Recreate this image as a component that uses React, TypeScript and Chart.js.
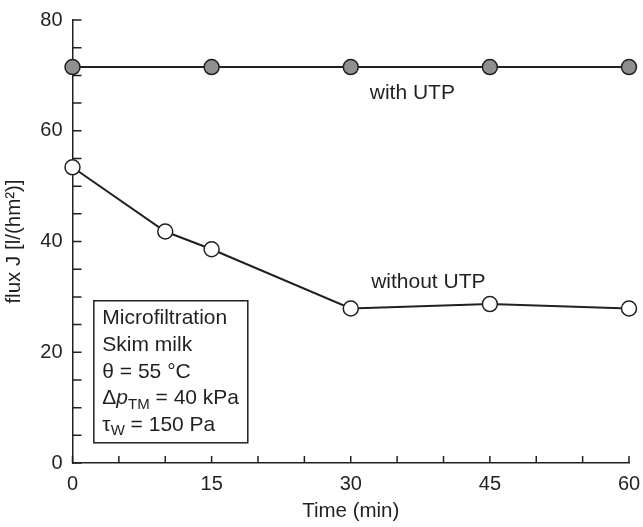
import React, { useEffect, useRef } from "react";
import { Chart, registerables } from "chart.js";

Chart.register(...registerables);

// ---- data ----
const timeWithUTP = [0, 15, 30, 45, 60];
const fluxWithUTP = [71.5, 71.5, 71.5, 71.5, 71.5];
const timeWithoutUTP = [0, 10, 15, 30, 45, 60];
const fluxWithoutUTP = [53.4, 41.8, 38.6, 27.9, 28.7, 27.9];
const xTickLabels = [0, 15, 30, 45, 60];
const yTickLabels = [0, 20, 40, 60, 80];
const seriesNames = ["with UTP", "without UTP"];
const seriesLabelAt = [
  [32.05, 66.8],
  [32.2, 32.7],
];
const infoBox = { x0: 2.3, x1: 18.9, yTop: 29.3, yBottom: 3.65 };
type Seg = { t: string; italic?: boolean; sub?: boolean };
const infoLines: Seg[][] = [
  [{ t: "Microfiltration" }],
  [{ t: "Skim milk" }],
  [{ t: "θ = 55 °C" }],
  [{ t: "Δ" }, { t: "p", italic: true }, { t: "TM", sub: true }, { t: " = 40 kPa" }],
  [{ t: "τ" }, { t: "W", sub: true }, { t: " = 150 Pa" }],
];

const INK = "#231f20";
const FONT = "'Liberation Sans', Arial, sans-serif";
const FS = 20;
const FS_NOTE = 21;
const FS_TITLE = 20.5;

const overlayPlugin = {
  id: "overlay",
  beforeDatasetsDraw(chart: any) {
    const { ctx, chartArea } = chart;
    const x = chart.scales.x;
    const y = chart.scales.y;
    ctx.save();
    ctx.strokeStyle = INK;
    ctx.lineWidth = 1.5;
    ctx.beginPath();
    x.ticks.forEach((t: any) => {
      const px = x.getPixelForValue(t.value);
      ctx.moveTo(px, chartArea.bottom);
      ctx.lineTo(px, chartArea.bottom - 7);
    });
    y.ticks.forEach((t: any) => {
      const py = y.getPixelForValue(t.value);
      ctx.moveTo(chartArea.left, py);
      ctx.lineTo(chartArea.left + 9, py);
    });
    ctx.stroke();
    ctx.restore();
  },
  afterDatasetsDraw(chart: any) {
    const { ctx } = chart;
    const x = chart.scales.x;
    const y = chart.scales.y;
    ctx.save();
    // series labels
    ctx.fillStyle = INK;
    ctx.font = `${FS_NOTE}px ${FONT}`;
    ctx.textBaseline = "middle";
    ctx.textAlign = "left";
    seriesNames.forEach((name, i) => {
      ctx.fillText(name, x.getPixelForValue(seriesLabelAt[i][0]), y.getPixelForValue(seriesLabelAt[i][1]));
    });
    // info box
    const bx0 = x.getPixelForValue(infoBox.x0);
    const bx1 = x.getPixelForValue(infoBox.x1);
    const by0 = y.getPixelForValue(infoBox.yTop);
    const by1 = y.getPixelForValue(infoBox.yBottom);
    ctx.fillStyle = "#ffffff";
    ctx.fillRect(bx0, by0, bx1 - bx0, by1 - by0);
    ctx.strokeStyle = INK;
    ctx.lineWidth = 1.5;
    ctx.strokeRect(bx0, by0, bx1 - bx0, by1 - by0);
    ctx.fillStyle = INK;
    const lineGap = (by1 - by0 - 35) / (infoLines.length - 1);
    infoLines.forEach((segs, i) => {
      let cx = bx0 + 8.5;
      const cy = by0 + 17.5 + i * lineGap;
      segs.forEach((s) => {
        if (s.sub) {
          ctx.font = `15px ${FONT}`;
          ctx.fillText(s.t, cx, cy + 6);
        } else {
          ctx.font = `${s.italic ? "italic " : ""}${FS_NOTE}px ${FONT}`;
          ctx.fillText(s.t, cx, cy);
        }
        cx += ctx.measureText(s.t).width;
      });
    });
    ctx.restore();
  },
};

export default function App() {
  const ref = useRef<HTMLCanvasElement>(null);
  useEffect(() => {
    if (!ref.current) return;
    const chart = new Chart(ref.current, {
      type: "line",
      data: {
        datasets: [
          {
            label: seriesNames[0],
            data: timeWithUTP.map((t, i) => ({ x: t, y: fluxWithUTP[i] })),
            borderColor: INK,
            borderWidth: 2,
            backgroundColor: "#8e8f93",
            pointBackgroundColor: "#8e8f93",
            pointBorderColor: INK,
            pointBorderWidth: 1.5,
            pointRadius: 7.5,
            clip: false as any,
          },
          {
            label: seriesNames[1],
            data: timeWithoutUTP.map((t, i) => ({ x: t, y: fluxWithoutUTP[i] })),
            borderColor: INK,
            borderWidth: 2,
            backgroundColor: "#ffffff",
            pointBackgroundColor: "#ffffff",
            pointBorderColor: INK,
            pointBorderWidth: 1.5,
            pointRadius: 7.5,
            clip: false as any,
          },
        ],
      },
      options: {
        animation: false,
        responsive: false,
        layout: { padding: { top: 20, right: 14, left: 0, bottom: 0 } },
        plugins: { legend: { display: false }, tooltip: { enabled: false } },
        scales: {
          x: {
            type: "linear",
            min: 0,
            max: 60,
            grid: { display: false, drawTicks: false },
            border: { display: true, color: INK, width: 1.5 },
            ticks: {
              stepSize: 5,
              autoSkip: false,
              maxRotation: 0,
              padding: 9,
              color: INK,
              font: { family: FONT, size: FS },
              callback: (v: any) => (xTickLabels.includes(Number(v)) ? String(v) : ""),
            },
            title: {
              display: true,
              text: "Time (min)",
              color: INK,
              font: { family: FONT, size: FS_TITLE },
              padding: { top: 3, bottom: 3 },
            },
            afterFit: (s: any) => {
              s.height = 64;
              s.paddingLeft = 0;
              s.paddingRight = 0;
            },
          },
          y: {
            type: "linear",
            min: 0,
            max: 80,
            grid: { display: false, drawTicks: false },
            border: { display: true, color: INK, width: 1.5 },
            ticks: {
              stepSize: 5,
              autoSkip: false,
              padding: 10,
              color: INK,
              font: { family: FONT, size: FS },
              callback: (v: any) => (yTickLabels.includes(Number(v)) ? String(v) : ""),
            },
            title: {
              display: true,
              text: "flux J [l/(hm²)]",
              color: INK,
              font: { family: FONT, size: FS_TITLE },
              padding: { top: 2, bottom: 2 },
            },
            afterFit: (s: any) => {
              s.width = 72.5;
              s.paddingTop = 0;
              s.paddingBottom = 0;
            },
          },
        },
      },
      plugins: [overlayPlugin],
    });
    return () => chart.destroy();
  }, []);
  return (
    <div style={{ position: "fixed", left: 0, top: 0, width: 643, height: 527, background: "#fff" }}>
      <canvas ref={ref} width={643} height={527} />
    </div>
  );
}
